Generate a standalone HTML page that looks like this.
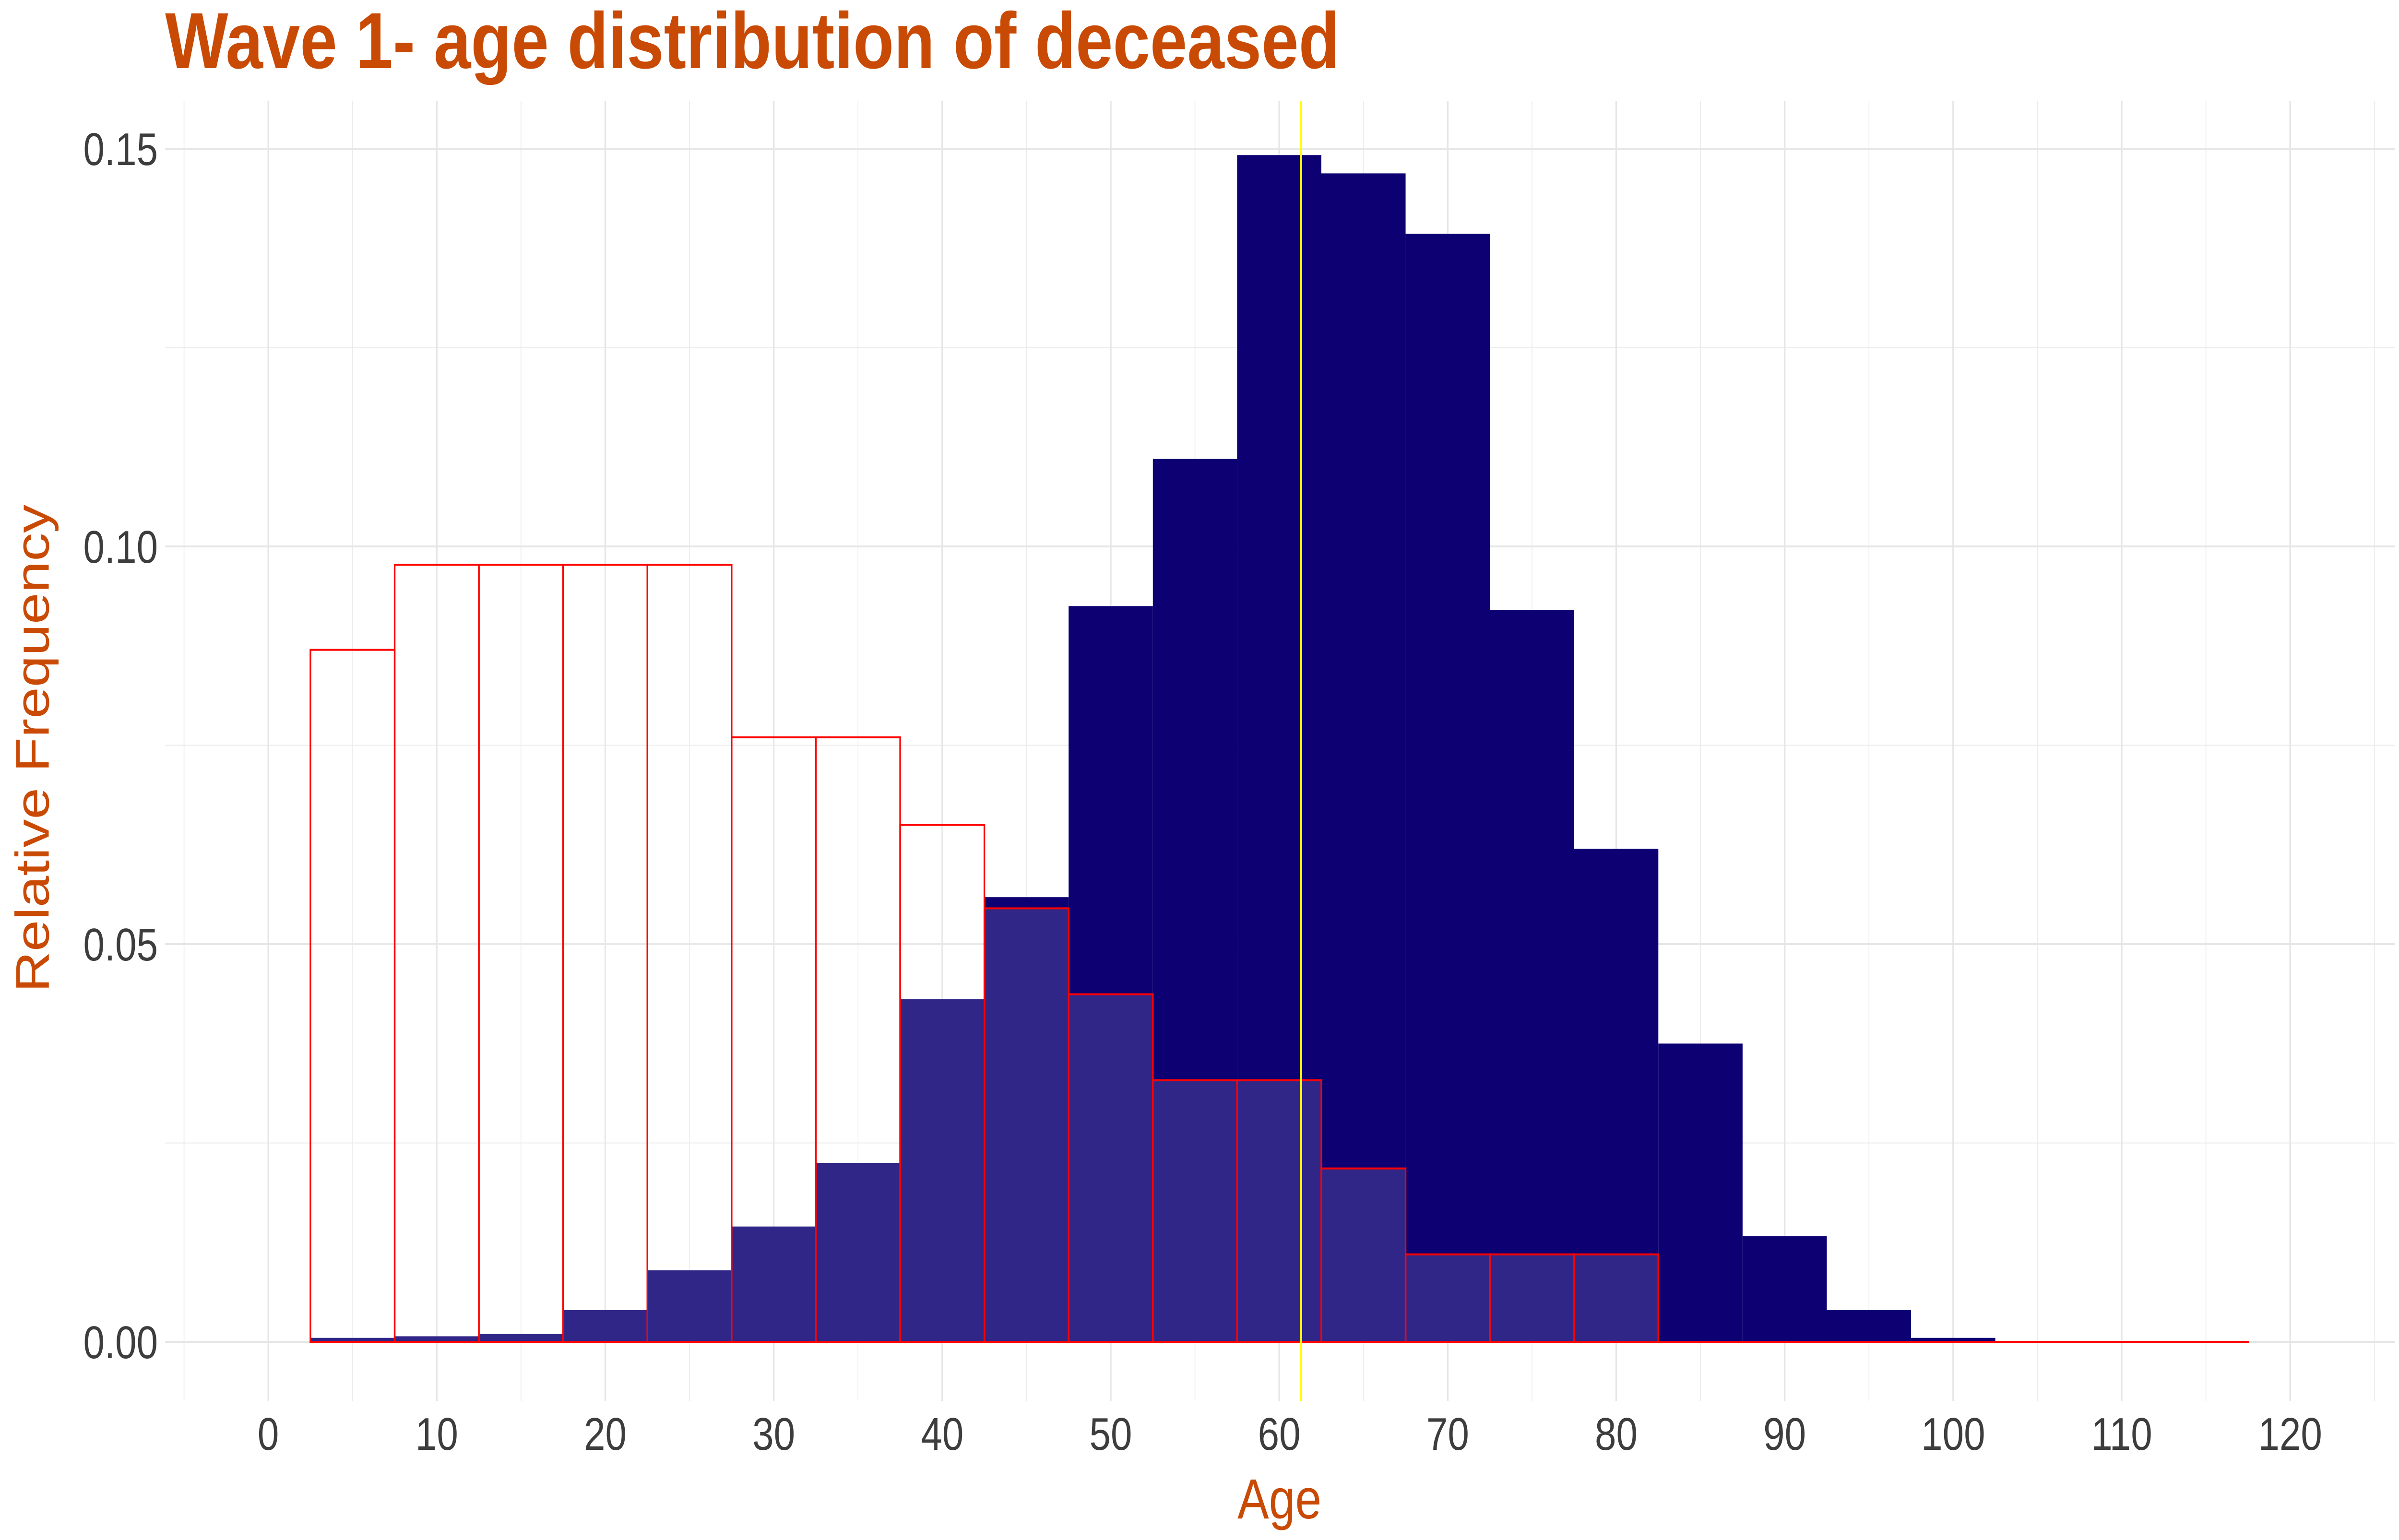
<!DOCTYPE html>
<html><head><meta charset="utf-8"><style>
html,body{margin:0;padding:0;background:#fff;width:100%;height:100%;overflow:hidden;}
svg{display:block;width:100vw;height:100vh;}
</style></head><body>
<svg id="chart" viewBox="0 0 6000 3210" preserveAspectRatio="none" xmlns="http://www.w3.org/2000/svg">
<rect width="6000" height="3210" fill="#fff"/>
<g id="grid"></g>
<g id="blue"></g>
<g id="red"></g>
<g id="vline"></g>
<g id="axes"></g>
<text x="413" y="142" font-family="Liberation Sans, sans-serif" font-weight="bold" font-size="166" fill="#c94a05" textLength="2937" lengthAdjust="spacingAndGlyphs">Wave 1- age distribution of deceased</text>
<text x="3200" y="3165" text-anchor="middle" font-family="Liberation Sans, sans-serif" font-size="118" fill="#c94a05">Age</text>
<text transform="translate(122,1560) rotate(-90)" text-anchor="middle" font-family="Liberation Sans, sans-serif" font-size="118" fill="#c94a05">Relative Frequency</text>
</svg>
<script>
const binCenters = [5,10,15,20,25,30,35,40,45,50,55,60,65,70,75,80,85,90,95,100,105,110,115];
const deceasedFreq = [0.0005,0.0007,0.001,0.004,0.009,0.0145,0.0225,0.0431,0.0559,0.0925,0.111,0.1492,0.1469,0.1393,0.092,0.062,0.0375,0.0133,0.004,0.0005,0,0,0];
const comparisonFreq = [0.087,0.0977,0.0977,0.0977,0.0977,0.076,0.076,0.065,0.0545,0.0437,0.0329,0.0329,0.0218,0.011,0.011,0.011,0,0,0,0,0,0,0];
const xTicks = [0,10,20,30,40,50,60,70,80,90,100,110,120];
const yTicks = [0,0.05,0.10,0.15];
const yTickLabels = ["0.00","0.05","0.10","0.15"];
const meanAge = 61.3;
const binWidth = 5;

const NS = "http://www.w3.org/2000/svg";
const panel = {l:413, r:5990, t:211, b:2920};
function xs(v){ return 671 + v*42.14; }
function ys(v){ return 2797 - v*16580; }
function el(tag, attrs, parent){
  const e = document.createElementNS(NS, tag);
  for (const k in attrs) e.setAttribute(k, attrs[k]);
  parent.appendChild(e); return e;
}
const grid = document.getElementById('grid');
for (let v=-5; v<=125; v+=10){
  const l = el('line',{x1:xs(v),x2:xs(v),y1:panel.t,y2:panel.b,stroke:'#ebebeb','stroke-width':2},grid);
  
  
}
for (let i=0;i<yTicks.length-1;i++){
  const v=(yTicks[i]+yTicks[i+1])/2;
  const l = el('line',{x1:panel.l,x2:panel.r,y1:ys(v),y2:ys(v),stroke:'#ebebeb','stroke-width':2},grid);
  
  
}
xTicks.forEach(v=>{
  const l = el('line',{x1:xs(v),x2:xs(v),y1:panel.t,y2:panel.b,stroke:'#e6e6e6','stroke-width':4},grid);
  
  
});
yTicks.forEach(v=>{
  const l = el('line',{x1:panel.l,x2:panel.r,y1:ys(v),y2:ys(v),stroke:'#e6e6e6','stroke-width':4},grid);
  
  
});
const blue = document.getElementById('blue');
binCenters.forEach((c,i)=>{
  const v = deceasedFreq[i]; if (v<=0) return;
  const r = el('rect',{x:xs(c-binWidth/2),y:ys(v),width:xs(c+binWidth/2)-xs(c-binWidth/2),height:ys(0)-ys(v),fill:'#0c0072'},blue);
  
  
});
const red = document.getElementById('red');
binCenters.forEach((c,i)=>{
  const v = comparisonFreq[i];
  const r = el('rect',{x:xs(c-binWidth/2),y:ys(v),width:xs(c+binWidth/2)-xs(c-binWidth/2),height:Math.max(ys(0)-ys(v),0.01),fill:'#fff','fill-opacity':0.15,stroke:'#ff0000','stroke-width':4},red);
  
  
});
const vl = el('line',{x1:xs(meanAge),x2:xs(meanAge),y1:panel.t,y2:panel.b,stroke:'#ffff00','stroke-width':5},document.getElementById('vline'));


const axes = document.getElementById('axes');
xTicks.forEach(v=>{
  const t = el('text',{x:xs(v),y:3022,'text-anchor':'middle','font-family':'Liberation Sans, sans-serif','font-size':96,fill:'#3d3d3d'},axes);
  t.textContent = v;
  
  
});
yTicks.forEach((v,i)=>{
  const t = el('text',{x:395,y:ys(v)+34,'text-anchor':'end','font-family':'Liberation Sans, sans-serif','font-size':96,fill:'#3d3d3d'},axes);
  t.textContent = yTickLabels[i];
  
  
});
</script>
</body></html>
